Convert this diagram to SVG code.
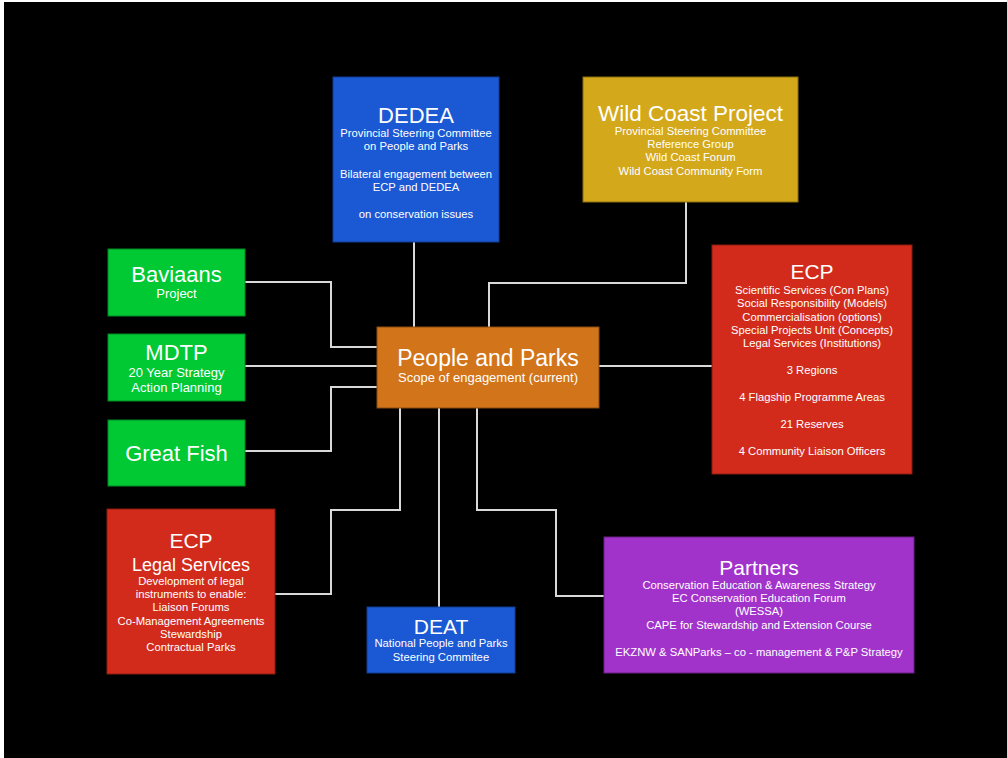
<svg xmlns="http://www.w3.org/2000/svg" width="1007" height="758" viewBox="0 0 1007 758">
<style>
text{font-family:"Liberation Sans",Arial,sans-serif;fill:#ffffff;text-anchor:middle}
.t{font-size:22px}
.s{font-size:11.25px}
.m{font-size:13px}
.c{fill:none;stroke:#d9d9d9;stroke-width:2}
.blue{fill:#1b58d3;stroke:#123c90}
.gold{fill:#d3a81a;stroke:#8c6f10}
.red{fill:#d22b1c;stroke:#8a1c12}
.green{fill:#00c934;stroke:#008a22}
.orange{fill:#d2741a;stroke:#8a4c10}
.purple{fill:#a133cb;stroke:#6a2186}
</style>
<rect x="0" y="0" width="1007" height="758" fill="#ffffff"/>
<rect x="4" y="2" width="1003" height="756" fill="#000000"/>
<g id="connectors">
<path class="c" d="M414,242V327"/>
<path class="c" d="M686,202V283H489V327"/>
<path class="c" d="M245,282H331V347H378"/>
<path class="c" d="M245,366H378"/>
<path class="c" d="M245,451H331V387H378"/>
<path class="c" d="M599,366H712"/>
<path class="c" d="M400,408V510H331V594H275"/>
<path class="c" d="M439,408V607"/>
<path class="c" d="M477,408V510H556V596H604"/>
</g>
<g id="dedea">
<rect class="blue" x="333" y="77" width="166" height="165"/>
<text class="t" x="416" y="123">DEDEA</text>
<text class="s" x="416" y="137">Provincial Steering Committee</text>
<text class="s" x="416" y="150">on People and Parks</text>
<text class="s" x="416" y="177.5">Bilateral engagement between</text>
<text class="s" x="416" y="191">ECP and DEDEA</text>
<text class="s" x="416" y="218">on conservation issues</text>
</g>
<g id="wildcoast">
<rect class="gold" x="583" y="77" width="215" height="125"/>
<text class="t" x="690.5" y="121" style="font-size:22.5px">Wild Coast Project</text>
<text class="s" x="690.5" y="134.5">Provincial Steering Committee</text>
<text class="s" x="690.5" y="147.5">Reference Group</text>
<text class="s" x="690.5" y="161">Wild Coast Forum</text>
<text class="s" x="690.5" y="174.5">Wild Coast Community Form</text>
</g>
<g id="ecp">
<rect class="red" x="712" y="245" width="200" height="229"/>
<text x="812" y="279" style="font-size:21px">ECP</text>
<text class="s" x="812" y="293.5">Scientific Services (Con Plans)</text>
<text class="s" x="812" y="307">Social Responsibility (Models)</text>
<text class="s" x="812" y="320.5">Commercialisation (options)</text>
<text class="s" x="812" y="334">Special Projects Unit (Concepts)</text>
<text class="s" x="812" y="347">Legal Services (Institutions)</text>
<text class="s" x="812" y="374">3 Regions</text>
<text class="s" x="812" y="401">4 Flagship Programme Areas</text>
<text class="s" x="812" y="428">21 Reserves</text>
<text class="s" x="812" y="454.5">4 Community Liaison Officers</text>
</g>
<g id="baviaans">
<rect class="green" x="108" y="249" width="137" height="67"/>
<text class="t" x="176.5" y="281.5">Baviaans</text>
<text class="m" x="176.5" y="297.5">Project</text>
</g>
<g id="mdtp">
<rect class="green" x="108" y="334" width="137" height="67"/>
<text class="t" x="176.5" y="360">MDTP</text>
<text class="m" x="176.5" y="376.5">20 Year Strategy</text>
<text class="m" x="176.5" y="392">Action Planning</text>
</g>
<g id="greatfish">
<rect class="green" x="108" y="420" width="137" height="66"/>
<text class="t" x="176.5" y="460.5">Great Fish</text>
</g>
<g id="peopleparks">
<rect class="orange" x="377" y="327" width="222" height="81"/>
<text x="488" y="366" style="font-size:23px">People and Parks</text>
<text class="m" x="488" y="381.5">Scope of engagement (current)</text>
</g>
<g id="ecplegal">
<rect class="red" x="107" y="509" width="168" height="165"/>
<text x="191" y="547.5" style="font-size:21px">ECP</text>
<text x="191" y="570.5" style="font-size:18px">Legal Services</text>
<text class="s" x="191" y="584.5">Development of legal</text>
<text class="s" x="191" y="597.5">instruments to enable:</text>
<text class="s" x="191" y="611">Liaison Forums</text>
<text class="s" x="191" y="624.5">Co-Management Agreements</text>
<text class="s" x="191" y="637.5">Stewardship</text>
<text class="s" x="191" y="651">Contractual Parks</text>
</g>
<g id="deat">
<rect class="blue" x="367" y="607" width="148" height="66"/>
<text class="t" x="441" y="633.5" style="font-size:21px">DEAT</text>
<text class="s" x="441" y="647">National People and Parks</text>
<text class="s" x="441" y="661">Steering Commitee</text>
</g>
<g id="partners">
<rect class="purple" x="604" y="537" width="310" height="136"/>
<text x="759" y="575" style="font-size:21px">Partners</text>
<text class="s" x="759" y="588.5">Conservation Education &amp; Awareness Strategy</text>
<text class="s" x="759" y="602">EC Conservation Education Forum</text>
<text class="s" x="759" y="615">(WESSA)</text>
<text class="s" x="759" y="628.5">CAPE for Stewardship and Extension Course</text>
<text class="s" x="759" y="655.5">EKZNW &amp; SANParks – co - management &amp; P&amp;P Strategy</text>
</g>
</svg>
